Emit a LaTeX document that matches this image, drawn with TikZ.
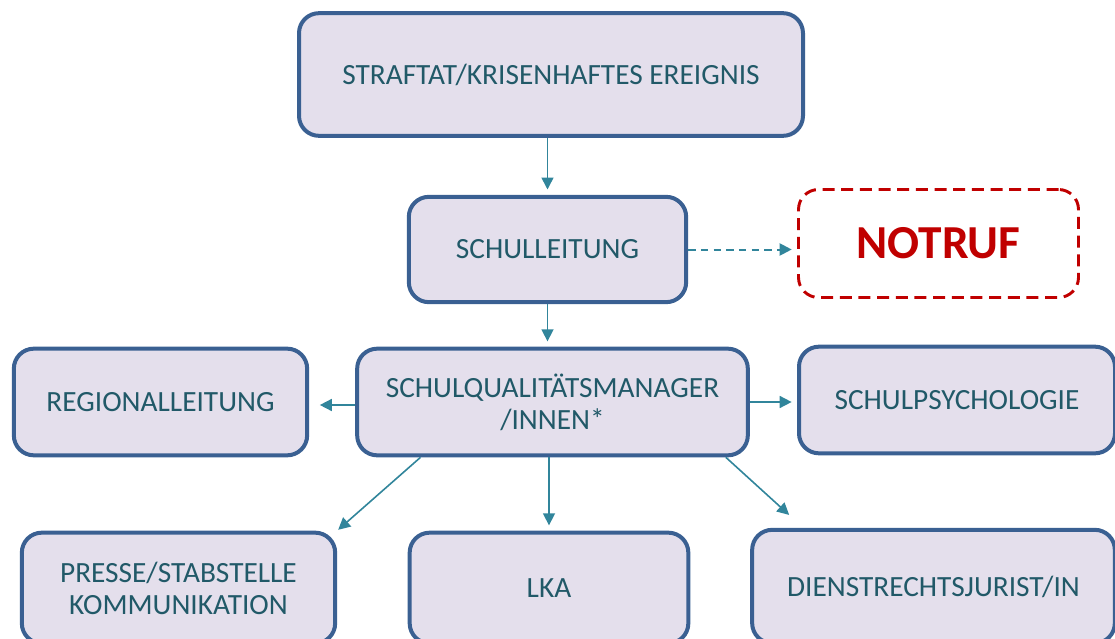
\documentclass[tikz,border=0pt]{standalone}
\usepackage{fontspec}
\setmainfont{Carlito}
\usepackage{tikz}
\usetikzlibrary{positioning,arrows.meta}
\definecolor{boxline}{RGB}{58,96,146}
\definecolor{boxfill}{RGB}{228,223,236}
\definecolor{boxtext}{RGB}{33,89,104}
\definecolor{arrowcol}{RGB}{49,133,155}
\definecolor{alarmred}{RGB}{192,0,0}

\begin{document}
\begin{tikzpicture}[
x=0.75pt, y=-0.75pt,
box/.style={rectangle, rounded corners=15pt, draw=boxline, fill=boxfill, line width=3pt,
  text=boxtext, align=center, font=\fontsize{22}{24}\selectfont, inner sep=2pt},
alarm/.style={rectangle, rounded corners=15pt, draw=alarmred, line width=2.2pt,
  dash pattern=on 9pt off 5pt, text=alarmred, font=\fontsize{35.5}{40}\selectfont\bfseries},
link/.style={draw=arrowcol, line width=1.2pt, -{Triangle[length=9pt,width=9pt]}, shorten >=4pt},
dashlink/.style={link, line width=1.5pt, dash pattern=on 5.5pt off 4pt}
]
\clip (0,0) rectangle (1115,639);

%Nodes
\node[box, minimum width=378pt, minimum height=92pt] (ereignis) at (551,74.5) {STRAFTAT/KRISENHAFTES EREIGNIS};
\node[box, minimum width=208pt, minimum height=79pt] (schulleitung) at (547.5,249.5) {SCHULLEITUNG};
\node[alarm, minimum width=210pt, minimum height=81pt] (notruf) at (938.5,243.5) {NOTRUF};
\node[box, minimum width=293pt, minimum height=80pt] (sqm) at (552.5,402) {SCHULQUALITÄTSMANAGER\\/INNEN*};
\node[box, minimum width=220pt, minimum height=80pt] (regional) at (160.5,402) {REGIONALLEITUNG};
\node[box, minimum width=237pt, minimum height=80pt] (psychologie) at (957,400) {SCHULPSYCHOLOGIE};
\node[box, minimum width=235pt, minimum height=83pt] (presse) at (178.5,588) {PRESSE/STABSTELLE\\KOMMUNIKATION};
\node[box, minimum width=209pt, minimum height=83pt] (lka) at (549,588) {LKA};
\node[box, minimum width=272pt, minimum height=85pt] (jurist) at (933.5,586.5) {DIENSTRECHTSJURIST/IN};

%Connections
\draw[link] (ereignis.south -| schulleitung) -- (schulleitung.north);
\draw[link] (schulleitung.south) -- (sqm.north -| schulleitung);
\draw[dashlink] (schulleitung.east) -- (notruf.west |- schulleitung);
\draw[link, shorten >=8pt] (sqm.west |- 0,405) -- (regional.east |- 0,405);
\draw[link] (sqm.east) -- (psychologie.west |- sqm);
\draw[link, shorten >=1pt] ([xshift=49pt]sqm.south west) -- (presse.north east);
\draw[link] (sqm.south -| lka) -- (lka.north);
\draw[link, shorten >=1pt] ([xshift=-18pt]sqm.south east) -- ([xshift=30pt,yshift=9pt]jurist.north west);
\end{tikzpicture}
\end{document}
